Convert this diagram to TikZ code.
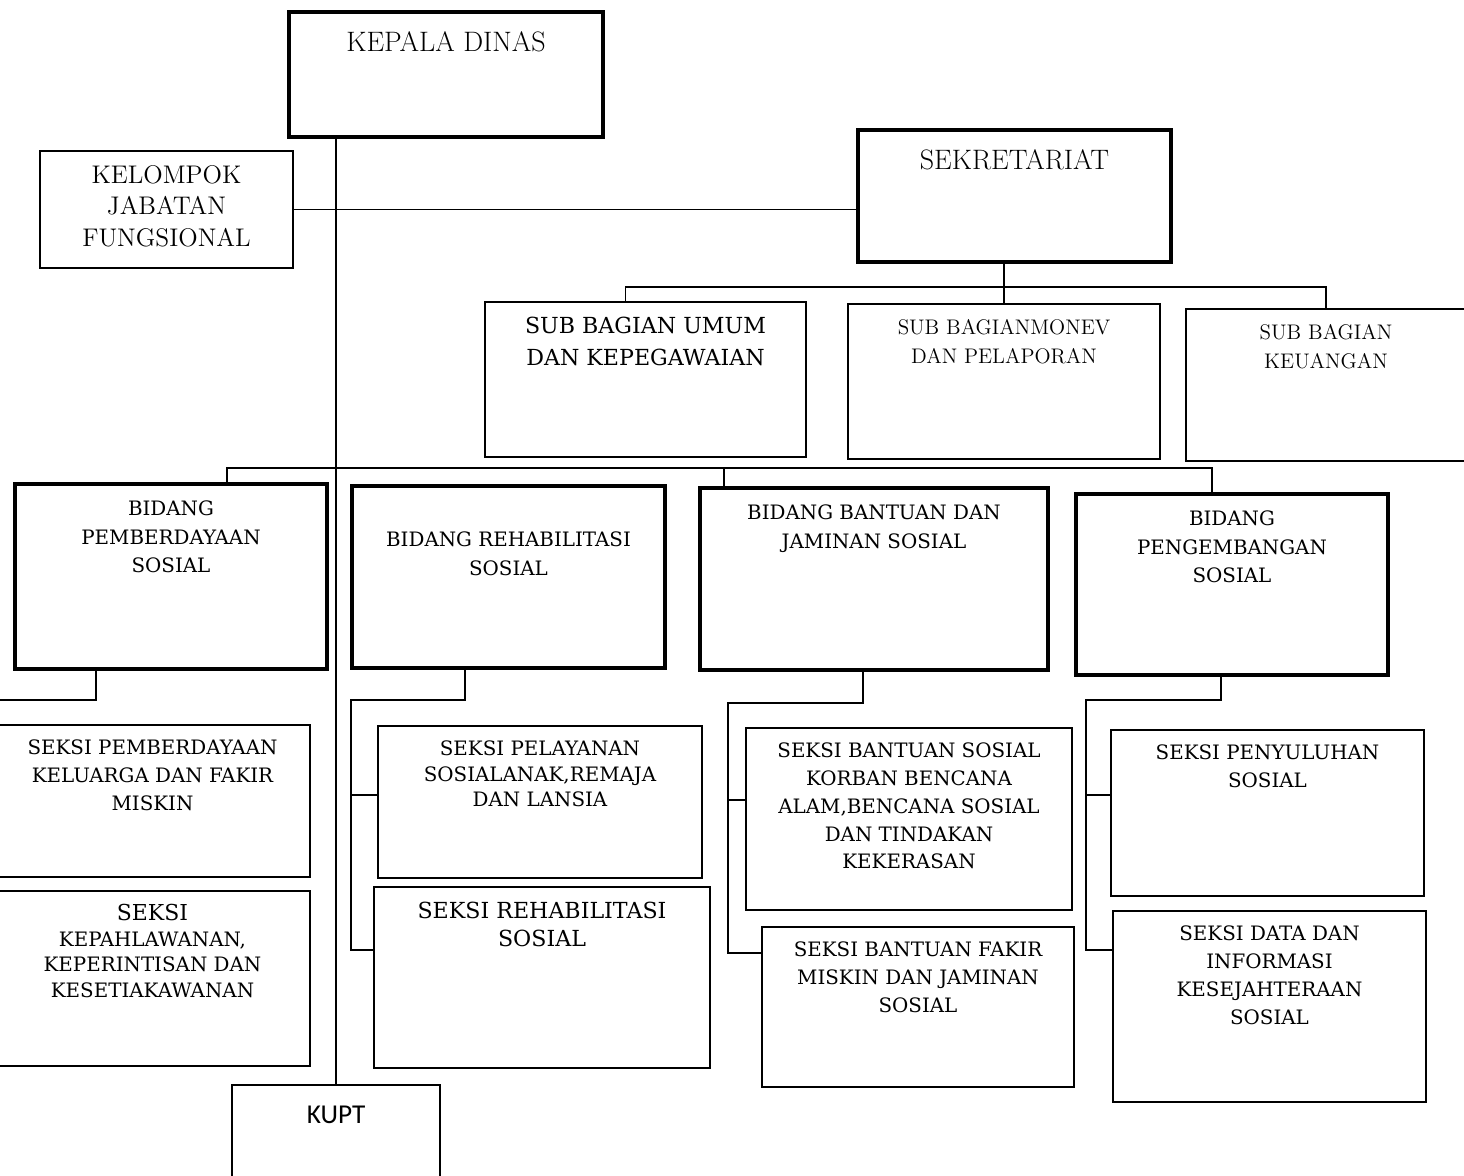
\documentclass[tikz,border=0pt]{standalone}
\usepackage{fontspec}
\newfontfamily\bookfont{DejaVu Serif}
\newfontfamily\kuptfont{Carlito}
\begin{document}
\begin{tikzpicture}[x=0.02cm, y=-0.02cm,
    unit/.style={draw, line width=1.1pt, inner sep=0pt},
    head/.style={unit, line width=2.2pt},
    conn/.style={line width=1pt},
    txt/.style={anchor=north, align=center, inner sep=0pt, yshift=-9pt},
    hdfont/.style={font=\fontsize{16}{19}\selectfont},
    subfont/.style={font=\fontsize{12}{16.4}\selectfont},
    bidfont/.style={font=\bookfont\fontsize{11.3}{16.2}\selectfont, yshift=-1.6pt},
    skfont/.style={font=\bookfont\fontsize{11.3}{15.8}\selectfont}]
    \useasboundingbox (0,0) rectangle (1464,1176);
    % pimpinan dan sekretariat
    \node (kepala) [head, minimum width=6.28cm, minimum height=2.5cm,
        label={[txt, hdfont, yshift=-2.9pt]north:KEPALA DINAS}] at (446,74.5) {};
    \node (kelompok) [unit, minimum width=5.06cm, minimum height=2.34cm,
        label={[txt, font=\fontsize{14.5}{18}\selectfont, yshift=0.5pt]north:KELOMPOK\\JABATAN\\FUNGSIONAL}] at (166.5,209.5) {};
    \node (sekretariat) [head, minimum width=6.26cm, minimum height=2.64cm,
        label={[txt, hdfont, yshift=-2.9pt]north:SEKRETARIAT}] at (1014.5,196) {};
    \node (umum) [unit, minimum width=6.42cm, minimum height=3.1cm,
        label={[txt, font=\bookfont\fontsize{12.6}{18}\selectfont]north:SUB BAGIAN UMUM\\DAN KEPEGAWAIAN}] at (645.5,379.5) {};
    \node (monev) [unit, minimum width=6.24cm, minimum height=3.1cm,
        label={[txt, subfont]north:SUB BAGIANMONEV\\DAN PELAPORAN}] at (1004,381.5) {};
    \node (keuangan) [unit, minimum width=5.6cm, minimum height=3.04cm,
        label={[txt, subfont]north:SUB BAGIAN\\KEUANGAN}] at (1326,385) {};
    % bidang
    \node (bid1) [head, minimum width=6.24cm, minimum height=3.7cm,
        label={[txt, bidfont]north:BIDANG\\PEMBERDAYAAN\\SOSIAL}] at (171,576.5) {};
    \node (bid2) [head, minimum width=6.26cm, minimum height=3.64cm,
        label={[txt, bidfont, yshift=-16.5pt]north:BIDANG REHABILITASI\\SOSIAL}] at (508.5,577) {};
    \node (bid3) [head, minimum width=6.96cm, minimum height=3.64cm,
        label={[txt, bidfont]north:BIDANG BANTUAN DAN\\JAMINAN SOSIAL}] at (874,579) {};
    \node (bid4) [head, minimum width=6.24cm, minimum height=3.62cm,
        label={[txt, bidfont]north:BIDANG\\PENGEMBANGAN\\SOSIAL}] at (1232,584.5) {};
    % seksi
    \node (s11) [unit, minimum width=6.3cm, minimum height=3.04cm,
        label={[txt, skfont]north:SEKSI PEMBERDAYAAN\\KELUARGA DAN FAKIR\\MISKIN}] at (152.5,801) {};
    \node (s12) [unit, minimum width=6.3cm, minimum height=3.5cm,
        label={[txt, yshift=1pt, font=\bookfont\fontsize{11.3}{14.5}\selectfont]north:{\fontsize{12.5}{14.5}\selectfont SEKSI}\\KEPAHLAWANAN,\\KEPERINTISAN DAN\\KESETIAKAWANAN}] at (152.5,978.5) {};
    \node (s13) [unit, minimum width=6.48cm, minimum height=3.04cm,
        label={[txt, font=\bookfont\fontsize{11.3}{14.5}\selectfont]north:SEKSI PELAYANAN\\SOSIALANAK,REMAJA\\DAN LANSIA}] at (540,802) {};
    \node (s14) [unit, minimum width=6.72cm, minimum height=3.62cm,
        label={[txt, font=\bookfont\fontsize{12.6}{16}\selectfont]north:SEKSI REHABILITASI\\SOSIAL}] at (542,977.5) {};
    \node (s15) [unit, minimum width=6.52cm, minimum height=3.64cm,
        label={[txt, skfont]north:SEKSI BANTUAN SOSIAL\\KORBAN BENCANA\\ALAM,BENCANA SOSIAL\\DAN TINDAKAN\\KEKERASAN}] at (909,819) {};
    \node (s16) [unit, minimum width=6.24cm, minimum height=3.2cm,
        label={[txt, skfont]north:SEKSI BANTUAN FAKIR\\MISKIN DAN JAMINAN\\SOSIAL}] at (918,1007) {};
    \node (s17) [unit, minimum width=6.26cm, minimum height=3.32cm,
        label={[txt, skfont]north:SEKSI PENYULUHAN\\SOSIAL}] at (1267.5,813) {};
    \node (s18) [unit, minimum width=6.26cm, minimum height=3.82cm,
        label={[txt, skfont]north:SEKSI DATA DAN\\INFORMASI\\KESEJAHTERAAN\\SOSIAL}] at (1269.5,1006.5) {};
    \node (kupt) [unit, minimum width=4.16cm, minimum height=2.3cm,
        label={[txt, font=\kuptfont\fontsize{15.5}{18}\selectfont, yshift=-3.3pt]north:KUPT}] at (336,1142.5) {};
    % garis
    \coordinate (sbus) at (1004,287);
    \coordinate (bbus) at (724,468);
    \coordinate (k1) at (-15,700);
    \coordinate (k2) at (351,700);
    \coordinate (k3) at (728,703);
    \coordinate (k4) at (1086,700);
    \draw [conn] (kupt.north |- kepala.south) -- (kupt.north);
    \draw [conn] (kelompok.east) -- (kelompok.east -| sekretariat.west);
    \draw [conn] (monev.north |- sekretariat.south) -- (monev.north);
    \draw [conn] ([xshift=-0.4cm]umum.north) |- (sbus) -| (keuangan.north);
    \draw [conn] ([xshift=1.12cm]bid1.north) |- (bbus) -| ([xshift=-0.4cm]bid4.north);
    \draw [conn] (bbus) -- (bbus |- bid3.north);
    \draw [conn] ([xshift=-1.5cm]bid1.south) |- (k1) |- (s12.west);
    \draw [conn] (s11.west) -| (k1);
    \draw [conn] ([xshift=-0.87cm]bid2.south) |- (k2) |- ([yshift=0.55cm]s14.west);
    \draw [conn] ([yshift=0.14cm]s13.west) -| (k2);
    \draw [conn] ([xshift=-0.22cm]bid3.south) |- (k3) |- ([yshift=1.08cm]s16.west);
    \draw [conn] ([yshift=0.38cm]s15.west) -| (k3);
    \draw [conn] ([xshift=-0.22cm]bid4.south) |- (k4) |- ([yshift=1.13cm]s18.west);
    \draw [conn] ([yshift=0.36cm]s17.west) -| (k4);
\end{tikzpicture}
\end{document}
